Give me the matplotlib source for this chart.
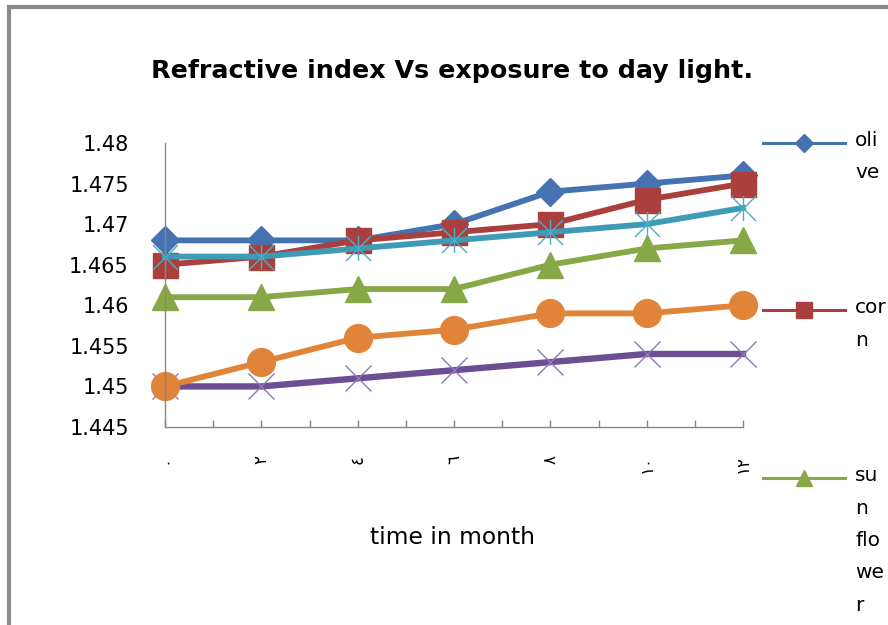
import matplotlib
matplotlib.use("Agg")
import matplotlib.pyplot as plt
from matplotlib.lines import Line2D
from matplotlib.patches import Rectangle
from matplotlib.path import Path

months = [0, 2, 4, 6, 8, 10, 12]
month_labels = ["٠", "٢", "٤", "٦", "٨", "١٠", "١٢"]

olive = [1.468, 1.468, 1.468, 1.470, 1.474, 1.475, 1.476]
corn = [1.465, 1.466, 1.468, 1.469, 1.470, 1.473, 1.475]
sunflower = [1.461, 1.461, 1.462, 1.462, 1.465, 1.467, 1.468]
series4 = [1.450, 1.450, 1.451, 1.452, 1.453, 1.454, 1.454]
series5 = [1.466, 1.466, 1.467, 1.468, 1.469, 1.470, 1.472]
series6 = [1.450, 1.453, 1.456, 1.457, 1.459, 1.459, 1.460]

legend_names = ["oli\nve", "cor\nn", "su\nn\nflo\nwe\nr"]

FONT = ["DejaVu Sans"]
plt.rcParams["font.family"] = FONT

star = Path([(-1, -1), (1, 1), (-1, 1), (1, -1), (0, -1), (0, 1)],
            [Path.MOVETO, Path.LINETO, Path.MOVETO, Path.LINETO, Path.MOVETO, Path.LINETO])

styles = [
    dict(data=olive, color="#4572B0", marker="D", ms=14, mfc="#4572B0", mec="#4572B0", mew=1, lw=4.2),
    dict(data=corn, color="#A9403D", marker="s", ms=18, mfc="#A9403D", mec="#A9403D", mew=1, lw=4.2),
    dict(data=sunflower, color="#87A846", marker="^", ms=19, mfc="#87A846", mec="#87A846", mew=1, lw=4.2),
    dict(data=series4, color="#6C4E93", marker="x", ms=19, mfc="none", mec="#8E78B5", mew=1.0, lw=4.6),
    dict(data=series5, color="#3E9AB5", marker=star, ms=18, mfc="none", mec="#4BACC6", mew=1.0, lw=4.2),
    dict(data=series6, color="#E0843A", marker="o", ms=20, mfc="#E0843A", mec="#E0843A", mew=1, lw=4.2),
]

fig = plt.figure(figsize=(8.88, 6.25), dpi=100)
ax = fig.add_axes([165 / 888, 1 - 427 / 625, 578 / 888, 284 / 625])

for s in styles:
    ax.plot(months, s["data"], color=s["color"], lw=s["lw"], marker=s["marker"],
            markersize=s["ms"], markerfacecolor=s["mfc"], markeredgecolor=s["mec"],
            markeredgewidth=s["mew"], clip_on=False, solid_joinstyle="round")

ax.set_xlim(0, 12)
ax.set_ylim(1.445, 1.48)
ax.tick_params(axis="y", length=0, pad=26, labelsize=15, labelcolor="#000000")
ax.tick_params(axis="x", direction="in", length=5, width=1, color="#868686", pad=20,
               labelrotation=90, labelsize=12)
ax.set_yticks([1.445, 1.45, 1.455, 1.46, 1.465, 1.47, 1.475, 1.48])
ax.set_yticklabels(["1.445", "1.45", "1.455", "1.46", "1.465", "1.47", "1.475", "1.48"])

xt = list(range(0, 13))
xl = []
for v in xt:
    xl.append(month_labels[months.index(v)] if v in months else "")
ax.set_xticks(xt)
ax.set_xticklabels(xl, rotation=90)

for sp in ["top", "right"]:
    ax.spines[sp].set_visible(False)
for sp in ["left", "bottom"]:
    ax.spines[sp].set_color("#868686")
    ax.spines[sp].set_linewidth(1.0)

fig.text(452 / 888, 1 - 71 / 625, "Refractive index Vs exposure to day light.",
         ha="center", va="center", fontsize=18.3, fontweight="bold")
fig.text(453 / 888, 1 - 538 / 625, "time in month", ha="center", va="center", fontsize=16.8)

# manual legend (Excel layout, clipped at the right edge)
leg_y = [143, 310, 478]
for i in range(3):
    s = styles[i]
    y = 1 - leg_y[i] / 625
    fig.add_artist(Line2D([763 / 888, 845 / 888], [y, y], transform=fig.transFigure,
                          color=s["color"], lw=2.2))
    fig.add_artist(Line2D([804 / 888], [y], transform=fig.transFigure, color=s["color"],
                          marker=s["marker"], markersize=s["ms"] * 0.62,
                          markerfacecolor=s["mfc"], markeredgecolor=s["mec"], lw=0))
    fig.text(855 / 888, y + 12 / 625, legend_names[i], ha="left", va="top",
             fontsize=14.5, linespacing=1.9)

fig.add_artist(Rectangle((9 / 888, -0.2), 1.2, 1.2 - 6.5 / 625, transform=fig.transFigure,
                         fill=False, edgecolor="#8A8A8A", lw=3))

fig.savefig("out.png", dpi=100)
